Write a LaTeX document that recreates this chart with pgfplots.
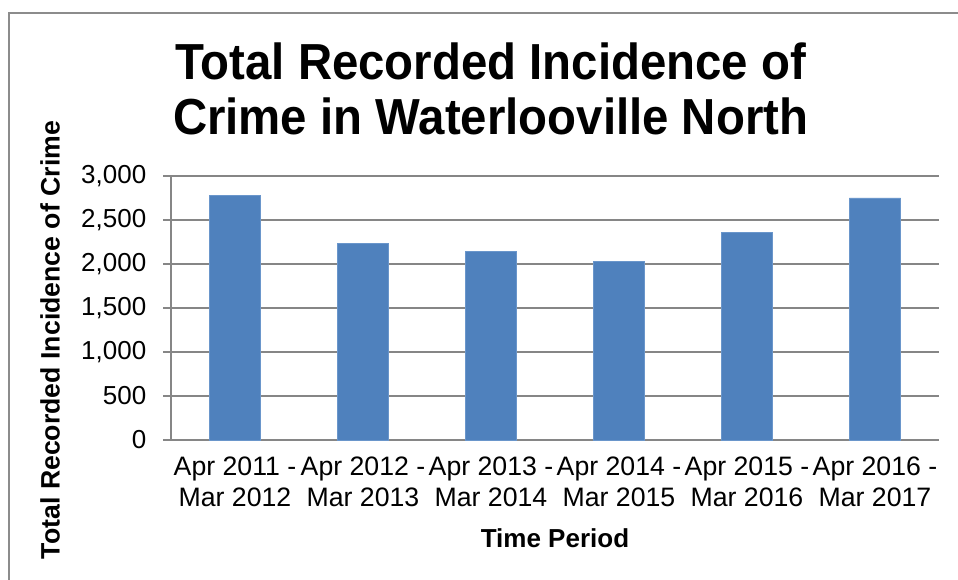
\documentclass[border=0pt]{standalone}
\usepackage{fontspec}
\setmainfont{Liberation Sans}
\usepackage{graphicx}
\usepackage{pgfplots}
\pgfplotsset{compat=1.18}
\definecolor{barblue}{HTML}{4F81BD}
\definecolor{bardraw}{HTML}{6A96CB}
\definecolor{gridgray}{HTML}{868686}
\definecolor{framegray}{HTML}{8C8C8C}
\begin{document}
\begin{tikzpicture}
\path[use as bounding box] (0,0) rectangle (718.5pt,435pt);
% outer chart frame (only top and left visible)
\draw[framegray, line width=1.3pt] (6.75pt,0) -- (6.75pt,425.5pt) -- (718.5pt,425.5pt);
\begin{axis}[
  at={(128.25pt,105pt)}, anchor=south west,
  scale only axis, width=576pt, height=198pt,
  xmin=-0.5, xmax=5.5, ymin=0, ymax=3000,
  axis x line*=bottom, axis y line*=left,
  axis line style={gridgray, line width=1pt, -},
  ytick={0,500,...,3000},
  ymajorgrids, grid style={gridgray, line width=1pt},
  /pgf/number format/1000 sep={,},
  /pgf/number format/assume math mode=true,
  scaled y ticks=false,
  tick style={gridgray, line width=1pt},
  tick align=outside,
  major tick length=6pt,
  xtick={0,1,2,3,4,5},
  x tick style={draw=none},
  minor xtick={-0.5,0.5,1.5,2.5,3.5,4.5,5.5},
  minor x tick style={gridgray, line width=1pt},
  minor tick length=5pt,
  xticklabels={{Apr 2011 -\\Mar 2012},{Apr 2012 -\\Mar 2013},{Apr 2013 -\\Mar 2014},{Apr 2014 -\\Mar 2015},{Apr 2015 -\\Mar 2016},{Apr 2016 -\\Mar 2017}},
  x tick label style={font=\fontsize{20}{22.8}\selectfont, align=center},
  y tick label style={font=\fontsize{19.5}{22.5}\selectfont},
  yticklabel style={xshift=-9pt},
  xticklabel style={yshift=-3.5pt},
  clip=false,
]
\addplot[ybar, bar width=38.4pt, fill=barblue, draw=bardraw, line width=0.5pt]
  coordinates {(0,2776) (1,2235) (2,2144) (3,2030) (4,2360) (5,2750)};
\end{axis}
\node[anchor=base, inner sep=0pt, font=\fontsize{38}{44}\selectfont\bfseries] at (368pt,375pt) {\scalebox{0.935}[1]{Total Recorded Incidence of}};
\node[anchor=base, inner sep=0pt, font=\fontsize{38}{44}\selectfont\bfseries] at (368pt,333.75pt) {\scalebox{0.935}[1]{Crime in Waterlooville North}};
\node[rotate=90, font=\fontsize{20}{22}\selectfont\bfseries] at (37.5pt,180pt) {Total Recorded Incidence of Crime};
\node[anchor=base, font=\fontsize{19.5}{22}\selectfont\bfseries] at (416.25pt,24.3pt) {Time Period};
\end{tikzpicture}
\end{document}
